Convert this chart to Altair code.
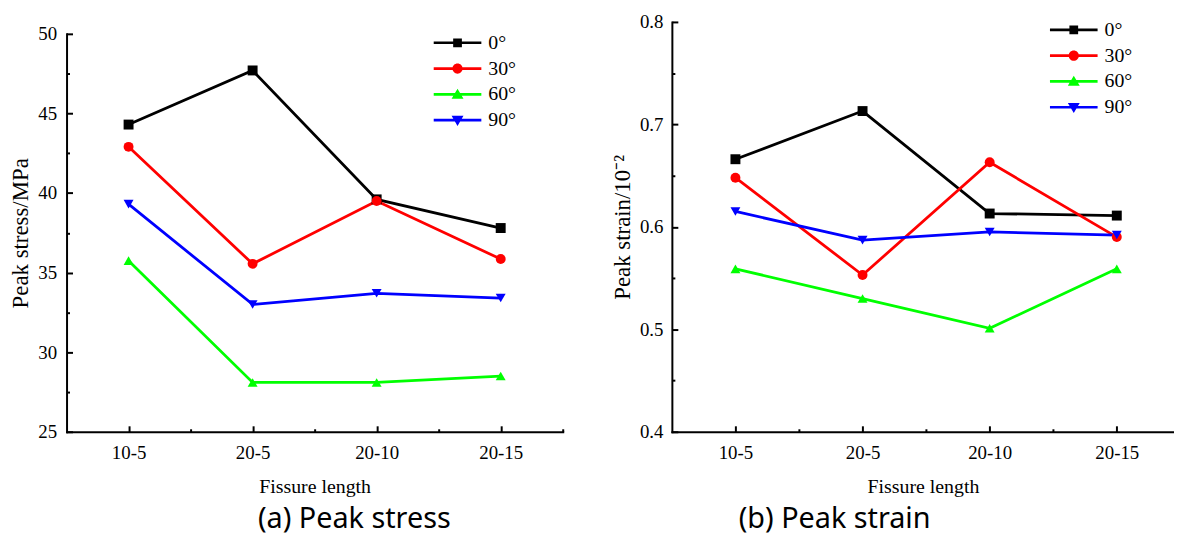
import json
import altair as alt
import pandas as pd

# ---------------- data ----------------
lengths = ["10-5", "20-5", "20-10", "20-15"]
angles = ["0°", "30°", "60°", "90°"]
colors = ["#000000", "#ff0000", "#00ff00", "#0000ff"]
marker_shapes = ["square", "circle", "triangle-up", "triangle-down"]

stress_0 = [44.3, 47.7, 39.6, 37.8]
stress_30 = [42.9, 35.55, 39.5, 35.85]
stress_60 = [35.75, 28.1, 28.1, 28.5]
stress_90 = [39.3, 33.0, 33.7, 33.4]

strain_0 = [0.666, 0.713, 0.613, 0.611]
strain_30 = [0.648, 0.553, 0.663, 0.590]
strain_60 = [0.559, 0.530, 0.501, 0.559]
strain_90 = [0.615, 0.587, 0.595, 0.592]

stress_ticks = [25, 30, 35, 40, 45, 50]
stress_minor = [27.5, 32.5, 37.5, 42.5, 47.5]
strain_ticks = [0.4, 0.5, 0.6, 0.7, 0.8]
strain_minor = [0.45, 0.55, 0.65, 0.75]


def long_df(series_list):
    rows = []
    for ang, vals in zip(angles, series_list):
        for i, (lab, v) in enumerate(zip(lengths, vals)):
            rows.append({"angle": ang, "length": lab, "idx": i + 1, "value": v})
    return pd.DataFrame(rows)


stress_df = long_df([stress_0, stress_30, stress_60, stress_90])
strain_df = long_df([strain_0, strain_30, strain_60, strain_90])

# legend symbols: line + marker (custom SVG paths)
LINE = "M-3,-0.17L3,-0.17L3,0.17L-3,0.17Z"
legend_paths = [
    LINE + "M-0.55,-0.55L0.55,-0.55L0.55,0.55L-0.55,0.55Z",
    LINE + "M0.64,0A0.64,0.64,0,1,1,-0.64,0A0.64,0.64,0,1,1,0.64,0Z",
    LINE + "M0,-0.72L0.75,0.55L-0.75,0.55Z",
    LINE + "M0,0.72L-0.75,-0.55L0.75,-0.55Z",
]

SERIF = "Liberation Serif"
label_expr = json.dumps(lengths) + "[datum.value - 1]"


def panel(df, ytitle, ydom, yrange, H, W, xdom, ymajor, yminor, xminor,
          yfmt, lab_pad, leg_x, leg_y, caption, cap_dx):
    xs = alt.Scale(domain=xdom, nice=False, zero=False)
    ys = alt.Scale(domain=ydom, range=yrange, nice=False, zero=False)

    main_x = alt.Axis(title="Fissure length", values=[1, 2, 3, 4], labelExpr=label_expr,
                      ticks=False, grid=False, labelPadding=12, titlePadding=14,
                      labelFont=SERIF, labelFontSize=19, titleFont=SERIF, titleFontSize=20,
                      labelFlush=False, labelOverlap=False, domainCap="square")
    main_y = alt.Axis(title=ytitle, values=ymajor, format=yfmt, ticks=False, grid=False,
                      labelPadding=lab_pad, titlePadding=5, labelFont=SERIF,
                      labelFontSize=19, titleFont=SERIF, titleFontSize=23,
                      labelFlush=False, labelOverlap=False, domainCap="square")
    tick_x = alt.Axis(orient="top", offset=-H, values=[1, 2, 3, 4], labels=False,
                      domain=False, grid=False, title=None, tickSize=6)
    tick_y = alt.Axis(orient="right", offset=-W, values=ymajor, labels=False,
                      domain=False, grid=False, title=None, tickSize=6)
    minor_x = alt.Axis(orient="top", offset=-H, values=xminor, labels=False,
                       domain=False, grid=False, title=None, tickSize=3)
    minor_y = alt.Axis(orient="right", offset=-W, values=yminor, labels=False,
                       domain=False, grid=False, title=None, tickSize=3)

    col_nl = alt.Color("angle:N", scale=alt.Scale(domain=angles, range=colors), legend=None)
    base = alt.Chart(df)

    lines = base.mark_line(strokeWidth=2.8).encode(
        x=alt.X("idx:Q", scale=xs, axis=main_x),
        y=alt.Y("value:Q", scale=ys, axis=main_y),
        color=col_nl,
    )
    pts = base.mark_point(filled=True, size=100, opacity=1, strokeWidth=0).encode(
        x=alt.X("idx:Q", scale=xs, axis=tick_x),
        y=alt.Y("value:Q", scale=ys, axis=tick_y),
        color=col_nl,
        shape=alt.Shape("angle:N", scale=alt.Scale(domain=angles, range=marker_shapes), legend=None),
    )
    leg = alt.Legend(title=None, orient="none", legendX=leg_x, legendY=leg_y,
                     symbolSize=256, symbolOffset=16, clipHeight=26, rowPadding=0, padding=0,
                     labelFont=SERIF, labelFontSize=20, labelOffset=21,
                     labelColor="black", symbolStrokeWidth=0, symbolOpacity=1)
    key = base.transform_filter("datum.value < -1000000").mark_point(
        filled=True, opacity=1, strokeWidth=0).encode(
        x=alt.X("idx:Q", scale=xs, axis=minor_x),
        y=alt.Y("value:Q", scale=ys, axis=minor_y),
        color=alt.Color("angle:N", scale=alt.Scale(domain=angles, range=colors), legend=leg),
        shape=alt.Shape("angle:N", scale=alt.Scale(domain=angles, range=legend_paths), legend=leg),
    )
    return alt.layer(lines, pts, key).resolve_scale(
        color="independent", shape="independent"
    ).resolve_axis(x="independent", y="independent").properties(
        width=W, height=H,
        title=alt.TitleParams(caption, orient="bottom", anchor="middle", frame="group",
                              dx=cap_dx, offset=9, font="Noto Sans", fontSize=29,
                              fontWeight="normal", color="black"),
    )


left = panel(stress_df, "Peak stress/MPa", [25, 50], [413, 12], 413, 500, [0.5, 4.5],
             stress_ticks, stress_minor, [1.5, 2.5, 3.5, 4.5], "d", 10, 368, 8,
             "(a) Peak stress", 40)
right = panel(strain_df, "Peak strain/10\u207b\u00b2", [0.4, 0.8], [413, 0], 413, 506,
              [0.5, 4.45], strain_ticks, strain_minor, [1.5, 2.5, 3.5], ".1f", 9, 379, -5,
              "(b) Peak strain", -89)

chart = alt.hconcat(left, right, spacing=48).resolve_scale(
    color="independent", shape="independent"
).resolve_legend(color="independent", shape="independent").properties(
    padding={"left": 2, "top": 3, "right": 0, "bottom": 0}
).configure_view(stroke=None).configure_axis(
    domainColor="black", domainWidth=2, tickColor="black", tickWidth=2,
    labelFont=SERIF, labelFontSize=19, labelColor="black",
    titleFont=SERIF, titleFontWeight="normal", titleColor="black",
)

chart.save("out.html", embed_options={"renderer": "svg", "actions": False})
